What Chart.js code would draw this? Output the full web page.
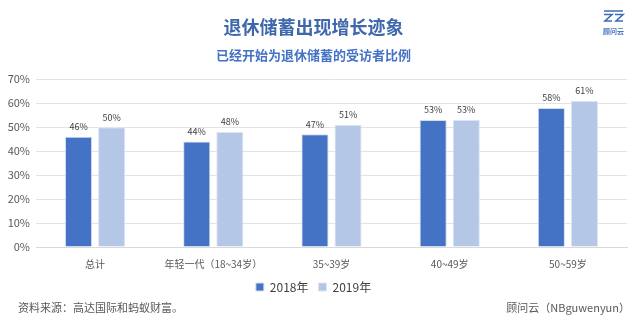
<!DOCTYPE html>
<html>
<head>
<meta charset="utf-8">
<script src="https://cdn.jsdelivr.net/npm/chart.js@4/dist/chart.umd.min.js"></script>
<style>
	html, body { margin: 0; padding: 0; background: #fff; }
	#wrap { width: 640px; height: 321px; position: relative; }
</style>
</head>
<body>
<div id="wrap"><canvas id="chart"></canvas></div>
<script>
const categories = ['总计', '年轻一代（18~34岁）', '35~39岁', '40~49岁', '50~59岁']
const values2018 = [46, 44, 47, 53, 58]
const values2019 = [50, 48, 51, 53, 61]
const yTicks = [0, 10, 20, 30, 40, 50, 60, 70]

const FONT = '"Noto Sans CJK SC", "Noto Sans", sans-serif'
const BLUE = '#4472C4'
const LIGHT = '#B4C7E7'

const valueLabels = {
	id: 'valueLabels',
	afterDatasetsDraw(chart) {
		const ctx = chart.ctx
		ctx.save()
		ctx.font = '9px ' + FONT
		ctx.fillStyle = '#404040'
		ctx.textAlign = 'center'
		ctx.textBaseline = 'middle'
		chart.data.datasets.forEach((ds, di) => {
			chart.getDatasetMeta(di).data.forEach((bar, i) => {
				ctx.fillText(ds.data[i] + '%', bar.x, bar.y - 10)
			})
		})
		ctx.restore()
	},
}

const decorations = {
	id: 'decorations',
	afterDraw(chart) {
		const ctx = chart.ctx
		ctx.save()
		// footer
		ctx.font = '11px ' + FONT
		ctx.fillStyle = '#595959'
		ctx.textBaseline = 'middle'
		ctx.textAlign = 'left'
		ctx.fillText('资料来源：高达国际和蚂蚁财富。', 18, 308)
		ctx.textAlign = 'right'
		ctx.fillText('顾问云（NBguwenyun）', 630, 308)
		// logo
		ctx.strokeStyle = '#3E6DB5'
		ctx.lineWidth = 1.6
		ctx.beginPath()
		ctx.moveTo(604, 11); ctx.lineTo(623, 11)
		ctx.moveTo(604, 14.5); ctx.lineTo(612, 14.5); ctx.lineTo(605, 21); ctx.lineTo(612, 21)
		ctx.moveTo(615, 14.5); ctx.lineTo(623, 14.5); ctx.lineTo(616, 21); ctx.lineTo(623, 21)
		ctx.stroke()
		ctx.font = 'bold 7px ' + FONT
		ctx.fillStyle = '#4A78C0'
		ctx.textAlign = 'center'
		ctx.fillText('顾问云', 613.5, 31)
		ctx.restore()
	},
}

new Chart(document.getElementById('chart'), {
	type: 'bar',
	data: {
		labels: categories,
		datasets: [
			{
				label: '2018年',
				data: values2018,
				backgroundColor: BLUE,
				borderColor: '#D3DDF0',
				borderWidth: 1,
			},
			{
				label: '2019年',
				data: values2019,
				backgroundColor: LIGHT,
				borderColor: '#DCE5F4',
				borderWidth: 1,
			},
		],
	},
	options: {
		responsive: true,
		maintainAspectRatio: false,
		animation: false,
		categoryPercentage: 0.56,
		barPercentage: 0.82,
		layout: { padding: { left: 0, right: 13, top: 0, bottom: 18 } },
		plugins: {
			title: {
				display: true,
				text: '退休储蓄出现增长迹象',
				color: '#3F68AC',
				font: { family: FONT, size: 18, weight: 'bold' },
				padding: { top: 16, bottom: 10 },
			},
			subtitle: {
				display: true,
				text: '已经开始为退休储蓄的受访者比例',
				color: '#4472C4',
				font: { family: FONT, size: 13, weight: 'bold' },
				padding: { top: 0, bottom: 16 },
			},
			legend: {
				position: 'bottom',
				labels: {
					boxWidth: 8,
					boxHeight: 8,
					padding: 10,
					color: '#404040',
					font: { family: FONT, size: 12, lineHeight: 1 },
				},
			},
			tooltip: { enabled: false },
		},
		scales: {
			x: {
				afterFit(scale) { scale.height = 24 },
				grid: { display: false, drawTicks: false },
				border: { color: '#D9D9D9' },
				ticks: {
					color: '#595959',
					font: { family: FONT, size: 10 },
					padding: 11,
					maxRotation: 0,
				},
			},
			y: {
				min: 0,
				max: 70,
				afterFit(scale) { scale.width = 36 },
				afterBuildTicks(scale) { scale.ticks = yTicks.map((v) => ({ value: v })) },
				grid: { color: '#E3E3E3', drawTicks: false },
				border: { display: false },
				ticks: {
					color: '#595959',
					font: { family: FONT, size: 11 },
					padding: 6,
					callback: (v) => v + '%',
				},
			},
		},
	},
	plugins: [valueLabels, decorations],
})
</script>
</body>
</html>
